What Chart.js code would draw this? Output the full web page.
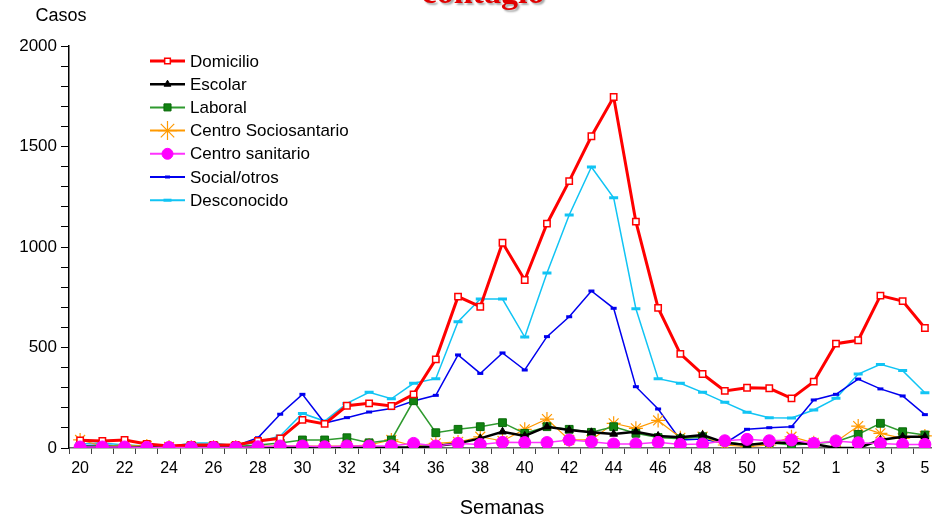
<!DOCTYPE html>
<html>
<head>
<meta charset="utf-8">
<script src="https://cdn.jsdelivr.net/npm/chart.js@4.4.1/dist/chart.umd.min.js"></script>
<style>
  html, body { margin: 0; padding: 0; background: #fff; overflow: hidden; }
  #myChart { display: block; }
</style>
</head>
<body>
<canvas id="myChart" width="945" height="519"></canvas>
<script>
// weeks 20..53, then 1..5 of the next year
var semanas = ['20','21','22','23','24','25','26','27','28','29','30','31','32','33','34','35','36','37','38','39',
  '40','41','42','43','44','45','46','47','48','49','50','51','52','53','1','2','3','4','5'];

var domicilio = [38,35,40,20,10,15,15,15,35,48,140,120,210,222,209,267,441,753,703,1021,
  836,1116,1328,1551,1746,1126,697,468,368,284,300,297,247,330,519,536,758,731,597];
var escolar = [5,3,3,2,2,3,3,3,3,3,3,3,3,3,3,2,10,23,48,81,
  60,106,90,78,70,81,60,53,65,26,15,26,26,20,0,0,40,56,56];
var laboral = [10,10,8,8,5,10,10,8,15,25,40,40,51,26,40,235,76,93,106,126,
  73,106,93,78,106,73,52,46,56,31,15,26,15,23,31,68,123,81,65];
var sociosanitario = [40,10,15,10,5,5,5,5,10,10,10,10,10,15,40,10,23,30,56,35,
  93,144,40,40,123,98,137,51,56,15,7,15,56,26,31,109,73,48,60];
var sanitario = [5,5,5,3,3,3,3,3,6,10,10,6,10,10,10,23,10,23,18,28,
  27,27,40,31,20,20,28,18,20,36,43,36,40,23,35,26,23,18,18];
var social = [10,15,8,8,5,15,15,10,51,168,267,124,151,179,196,234,262,463,371,473,
  388,554,653,781,695,305,194,40,45,23,93,101,106,239,267,343,294,259,166];
var desconocido = [20,25,15,10,5,25,25,10,30,60,172,134,222,277,245,322,345,628,741,741,
  552,871,1159,1398,1245,693,345,322,277,227,178,151,149,189,247,368,416,385,275];

var yTicks = [0, 500, 1000, 1500, 2000];

var canvas = document.getElementById('myChart');
var ctx = canvas.getContext('2d');

function serie(label, data, line, lineWidth, style, radius, fill, border, bw, order) {
  return {
    label: label,
    data: data,
    order: order,
    borderColor: line,
    borderWidth: lineWidth,
    pointStyle: style,
    pointRadius: radius,
    pointBackgroundColor: fill,
    pointBorderColor: border,
    pointBorderWidth: bw,
    tension: 0,
    fill: false
  };
}

// lower order is drawn on top; the pink dots sit above everything
var datasets = [
  serie('Domicilio', domicilio, '#ff0000', 3, 'rect', 4.5, '#ffffff', '#ff0000', 1.5, 1),
  serie('Escolar', escolar, '#000000', 2.5, 'triangle', 4.5, '#000000', '#000000', 1, 2),
  serie('Laboral', laboral, '#2f9a2f', 1.5, 'rect', 5.5, '#118311', '#0a6a0a', 1, 3),
  serie('Centro Sociosantario', sociosanitario, '#ff9900', 1.2, 'star', 7, '#ff9900', '#ff9900', 1.2, 4),
  serie('Centro sanitario', sanitario, '#ff33ff', 1.5, 'circle', 6, '#ff00ff', '#ff00ff', 1, 0),
  serie('Social/otros', social, '#0000ee', 1.5, 'line', 3, '#0000ee', '#0000ee', 3, 5),
  serie('Desconocido', desconocido, '#11c4f4', 1.5, 'line', 4.5, '#11c4f4', '#11c4f4', 3, 6)
];

// vertical legend inside the plot, plus the loose texts
var extrasPlugin = {
  id: 'extras',
  afterDraw: function(chart) {
    var c = chart.ctx;
    c.save();
    c.font = '17px "Liberation Sans", Arial, sans-serif';
    c.textBaseline = 'middle';
    c.textAlign = 'left';
    for (var i = 0; i < chart.data.datasets.length; i++) {
      var ds = chart.data.datasets[i];
      var y = 61 + i * 23.2;
      c.beginPath();
      c.moveTo(150, y);
      c.lineTo(185, y);
      c.strokeStyle = ds.borderColor;
      c.lineWidth = Math.max(ds.borderWidth, 2);
      c.stroke();
      c.fillStyle = ds.pointBackgroundColor;
      c.strokeStyle = ds.pointBorderColor;
      c.lineWidth = ds.pointBorderWidth;
      Chart.helpers.drawPoint(c, {
        pointStyle: ds.pointStyle,
        radius: ds.pointStyle === 'star' ? 9.5 : ds.pointRadius - 0.5,
        borderWidth: ds.pointBorderWidth,
        rotation: 0
      }, 167.5, y);
      c.fillStyle = '#000';
      c.fillText(ds.label, 190, y + 1);
    }

    c.textAlign = 'center';
    c.fillStyle = '#000';
    c.font = '18px "Liberation Sans", Arial, sans-serif';
    c.fillText('Casos', 61, 16);
    c.font = '20px "Liberation Sans", Arial, sans-serif';
    c.fillText('Semanas', 502, 508);

    // title, cut off by the top of the picture
    c.font = 'bold 34px "Liberation Serif", "Times New Roman", serif';
    c.textBaseline = 'alphabetic';
    c.shadowColor = 'rgba(0,0,0,0.35)';
    c.shadowOffsetX = 2;
    c.shadowOffsetY = 2;
    c.shadowBlur = 2;
    c.fillStyle = '#e00000';
    c.fillText('contagio', 483, 3);
    c.restore();
  }
};

var myChart = new Chart(canvas, {
  type: 'line',
  data: { labels: semanas, datasets: datasets },
  plugins: [extrasPlugin],
  options: {
    responsive: false,
    animation: false,
    layout: { padding: { left: 0, right: 9, top: 46, bottom: 0 } },
    plugins: {
      legend: { display: false },
      tooltip: { enabled: false },
      title: { display: false }
    },
    scales: {
      x: {
        type: 'category',
        offset: true,
        afterFit: function(scale) { scale.height = 71; },
        grid: {
          offset: true,
          drawOnChartArea: false,
          drawTicks: true,
          tickLength: 6,
          color: '#444'
        },
        border: { display: true, color: '#666', width: 1.5 },
        ticks: {
          autoSkip: false,
          maxRotation: 0,
          padding: 5,
          color: '#000',
          font: { family: '"Liberation Sans", Arial, sans-serif', size: 16 },
          callback: function(value, index) {
            return index % 2 === 0 ? this.getLabelForValue(value) : '';
          }
        }
      },
      y: {
        min: 0,
        max: 2000,
        afterFit: function(scale) { scale.width = 69; },
        grid: {
          drawOnChartArea: false,
          drawTicks: true,
          tickLength: 8,
          color: '#000'
        },
        border: { display: true, color: '#000', width: 1.5 },
        ticks: {
          stepSize: 100,
          autoSkip: false,
          padding: 4,
          color: '#000',
          font: { family: '"Liberation Sans", Arial, sans-serif', size: 17 },
          callback: function(value) {
            return yTicks.indexOf(value) >= 0 ? String(value) : '';
          }
        }
      }
    }
  }
});
</script>
</body>
</html>
